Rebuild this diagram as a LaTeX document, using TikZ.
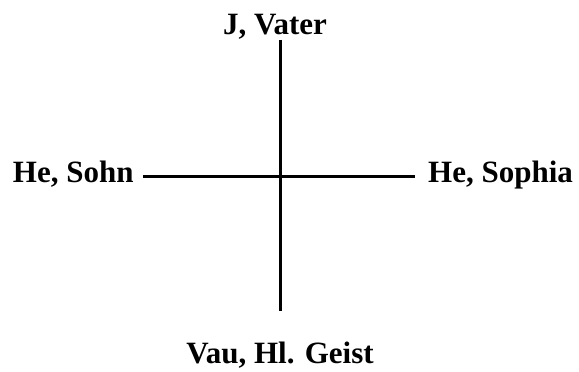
\documentclass[tikz,border=0pt]{standalone}
\usepackage{fontspec}
\setmainfont{Liberation Serif}
\usetikzlibrary{positioning}
\tikzset{
  lbl/.style={font=\fontsize{31}{37}\selectfont\bfseries,inner sep=0pt},
  arm/.style={line width=3pt,black}
}
\begin{document}
\begin{tikzpicture}[x=1pt,y=1pt]
          \useasboundingbox(0,0)rectangle(579,372);
          \coordinate(top)at(280,332);
          \coordinate(bot)at(280,61);
          \coordinate(lft)at(143,195);
          \coordinate(rgt)at(415,195);
          \draw[arm](top)--(bot);
          \draw[arm](lft)--(rgt);
          \node[lbl,anchor=base](vater)at(275,337){J, Vater};
          \node[lbl,anchor=base west](sohn)at(12.7,189){He, Sohn};
          \node[lbl,anchor=base west](sophia)at(428,189){He, Sophia};
          \node[lbl,anchor=base](geist)at(280,8){Vau, Hl. Geist};
        \end{tikzpicture}
\end{document}
